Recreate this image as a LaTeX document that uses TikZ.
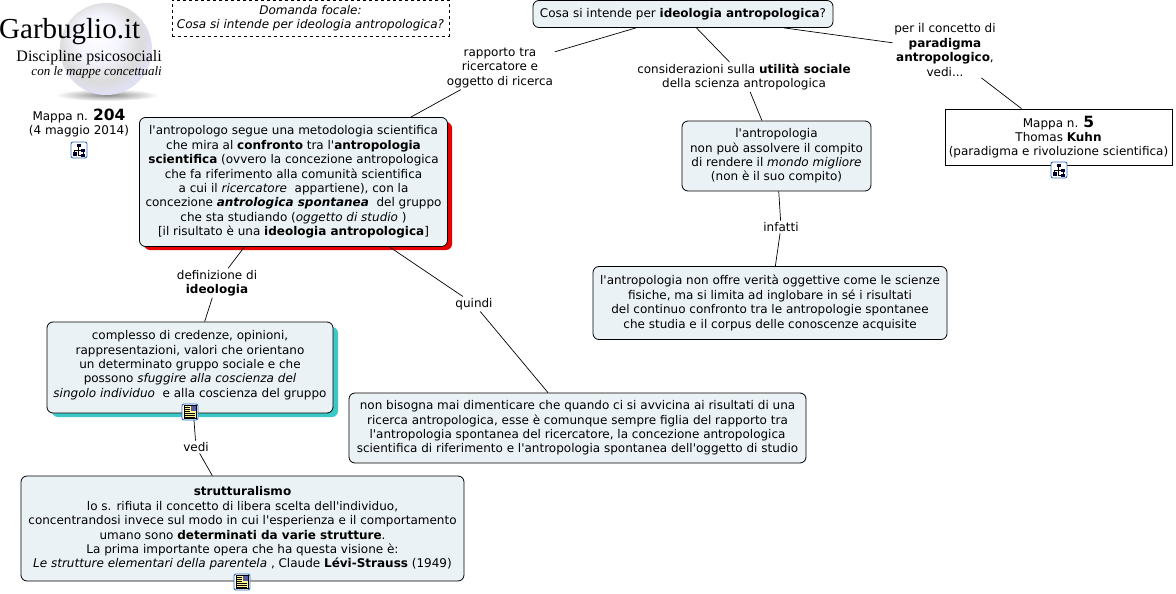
\documentclass[tikz,border=0pt]{standalone}
\usepackage{fontspec}
\newfontfamily\vf{DejaVu Sans}
\setmainfont{DejaVu Sans}
\newfontfamily\logofont{Liberation Serif}
\usetikzlibrary{shadings}
\definecolor{boxfill}{HTML}{EBF2F5}
\definecolor{iconblue}{HTML}{2F6FC0}
\definecolor{tealshadow}{HTML}{3CC8C8}
\definecolor{redshadow}{HTML}{E60000}
\newcommand{\tf}{\vf\fontsize{12}{14.4}\selectfont}
\newcommand{\bignum}[1]{{\fontsize{15.5}{14.4}\selectfont\bfseries #1}}
\pgfdeclareradialshading{logoball}{\pgfpoint{-6bp}{8bp}}{
 color(0bp)=(white);
 color(12bp)=(white!96!blue);
 color(22bp)=(black!14!white);
 color(28bp)=(black!30!blue!12!white);
 color(34bp)=(black!50!blue!18!white);
 color(40bp)=(black!38!blue!12!white);
 color(50bp)=(black!25!white)}
\tikzset{
 x=1pt,y=-1pt,
 concept/.style={draw=black,line width=0.8pt,rounded corners=6pt,fill=boxfill,align=center,font=\tf,inner sep=0pt},
 linklabel/.style={align=center,font=\tf,inner sep=1.5pt},
 plain/.style={align=center,font=\tf,inner sep=0pt},
 conn/.style={draw=black,line width=0.7pt},
 pics/mapicon/.style={code={
   \draw[iconblue,fill=white,line width=0.9pt,rounded corners=2pt] (-8,-8) rectangle (8,8);
   \fill[black!80!blue] (-2.5,-6.5) rectangle (1.5,-3);
   \fill[black!80!blue] (-6.5,2) rectangle (-2.5,6);
   \fill[black!80!blue] (2,-1.5) rectangle (6,1.5);
   \fill[black!80!blue] (2,3.5) rectangle (6,6.5);
   \draw[black,line width=0.6pt] (-0.5,-3) -- (-0.5,0) (-4.5,2) -- (-4.5,0) -- (2,0) (4,1.5) -- (4,3.5) (-0.5,0) -- (-0.5,5) -- (2,5);
 }},
 pics/docicon/.style={code={
   \draw[iconblue,fill=white,line width=0.9pt,rounded corners=2pt] (-8,-8) rectangle (8,8);
   \fill[yellow!45!white,draw=black,line width=0.5pt] (-6,-6.5) rectangle (6,6.5);
   \fill[gray!70!blue] (1,-6) rectangle (5.5,-1.5);
   \foreach \yy in {-4.5,-2.5,-0.5,1.5,3.5,5}{\draw[black,line width=0.6pt] (-5,\yy) -- (0,\yy);}
   \draw[black,line width=0.6pt] (0,1.5) -- (5,1.5) (0,3.5) -- (5,3.5) (0,5) -- (5,5);
 }}
}
\begin{document}
\begin{tikzpicture}
\useasboundingbox (0,0) rectangle (1176,594);
% sphere logo
\shade[inner color=black!45,outer color=white] (107,95) ellipse (52 and 6);
\shade[shading=logoball] (106,49) circle (46);
\node[inner sep=0pt,anchor=west,font=\logofont\fontsize{29}{30}\selectfont] (logoa) at (-1,32) {Garbuglio.it};
\node[inner sep=0pt,anchor=east,font=\logofont\fontsize{16}{18}\selectfont] (logob) at (162,57.5) {Discipline psicosociali};
\node[inner sep=0pt,anchor=east,font=\logofont\itshape\fontsize{13}{15}\selectfont] (logoc) at (162,72) {con le mappe concettuali};
\node[plain] (mapn) at (79,123) {Mappa n. \bignum{204}\\(4 maggio 2014)};
\pic at (79,150) {mapicon};
% focal
\node[draw=black,dashed,line width=0.6pt,fill=white,minimum width=277pt,minimum height=36pt,align=center,inner sep=0pt,font=\tf\itshape] (focal) at (310.5,18) {Domanda focale:\\Cosa si intende per ideologia antropologica?};
% shadows
\fill[redshadow,rounded corners=6pt] (144,122) rectangle (452,250);
\fill[tealshadow,rounded corners=6pt] (52,327) rectangle (338,417);
% boxes
\node[concept,minimum width=300pt,minimum height=27pt] (q) at (683,14) {Cosa si intende per \textbf{ideologia antropologica}?};
\node[concept,minimum width=308pt,minimum height=129pt] (b1) at (293.5,182) {l'antropologo segue una metodologia scientifica\\che mira al \textbf{confronto} tra l'\textbf{antropologia}\\\textbf{scientifica} (ovvero la concezione antropologica\\che fa riferimento alla comunità scientifica\\a cui il \textit{ricercatore}\ \ appartiene), con la\\concezione \textbf{\textit{antrologica spontanea}}\ \ del gruppo\\che sta studiando (\textit{oggetto di studio}\ )\\{}[il risultato è una \textbf{ideologia antropologica}]};
\node[concept,minimum width=286pt,minimum height=91pt,text depth=7pt] (b2) at (190,367.5) {complesso di credenze, opinioni,\\rappresentazioni, valori che orientano\\un determinato gruppo sociale e che\\possono \textit{sfuggire alla coscienza del}\\\textit{singolo individuo}\ \ e alla coscienza del gruppo};
\node[concept,minimum width=443pt,minimum height=105pt] (b3) at (242.5,528.5) {\textbf{strutturalismo}\\lo s. rifiuta il concetto di libera scelta dell'individuo,\\concentrandosi invece sul modo in cui l'esperienza e il comportamento\\umano sono \textbf{determinati da varie strutture}.\\La prima importante opera che ha questa visione è:\\\textit{Le strutture elementari della parentela}\ , Claude \textbf{Lévi-Strauss} (1949)};
\node[concept,minimum width=457pt,minimum height=70pt] (b4) at (577.5,428) {non bisogna mai dimenticare che quando ci si avvicina ai risultati di una\\ricerca antropologica, esse è comunque sempre figlia del rapporto tra\\l'antropologia spontanea del ricercatore, la concezione antropologica\\scientifica di riferimento e l'antropologia spontanea dell'oggetto di studio};
\node[concept,minimum width=189pt,minimum height=70pt] (b5) at (776.5,156) {l'antropologia\\non può assolvere il compito\\di rendere il \textit{mondo migliore}\\(non è il suo compito)};
\node[concept,minimum width=354pt,minimum height=73pt] (b6) at (770,303) {l'antropologia non offre verità oggettive come le scienze\\fisiche, ma si limita ad inglobare in sé i risultati\\del continuo confronto tra le antropologie spontanee\\che studia e il corpus delle conoscenze acquisite};
\node[draw=black,line width=0.8pt,fill=white,minimum width=227pt,minimum height=56pt,align=center,inner sep=0pt,font=\tf] (b7) at (1058.5,137) {Mappa n. \bignum{5}\\Thomas \textbf{Kuhn}\\(paradigma e rivoluzione scientifica)};
% labels
\node[linklabel] (l1) at (500,68) {rapporto tra\\ricercatore e\\oggetto di ricerca};
\node[linklabel] (l2) at (744,77) {considerazioni sulla \textbf{utilità sociale}\\della scienza antropologica};
\node[linklabel] (l3) at (945,50) {per il concetto di\\\textbf{paradigma}\\\textbf{antropologico},\\vedi...};
\node[linklabel] (l4) at (217,283) {definizione di\\\textbf{ideologia}};
\node[linklabel] (l5) at (474,304) {quindi};
\node[linklabel] (l6) at (196,447) {vedi};
\node[linklabel] (l7) at (781,227) {infatti};
% connectors
\draw[conn] (q) -- (l1);
\draw[conn] (l1) -- (b1);
\draw[conn] (q) -- (l2);
\draw[conn] (l2) -- (b5);
\draw[conn] (q) -- (l3);
\draw[conn] (l3) -- (b7);
\draw[conn] (b1) -- (l4);
\draw[conn] (l4) -- (b2);
\draw[conn] (b1) -- (l5);
\draw[conn] (l5) -- (b4);
\draw[conn] (b2) -- (l6);
\draw[conn] (l6) -- (b3);
\draw[conn] (b5) -- (l7);
\draw[conn] (l7) -- (b6);
% icons
\pic at (190,412) {docicon};
\pic at (242,582) {docicon};
\pic at (1059,170) {mapicon};
\end{tikzpicture}
\end{document}
